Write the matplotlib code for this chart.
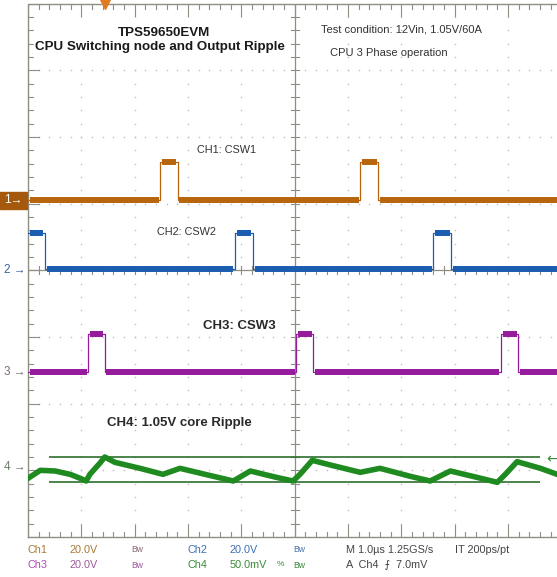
import matplotlib
matplotlib.use("Agg")
import matplotlib.pyplot as plt
from matplotlib.patches import Rectangle
import numpy as np

# ---------------- data (time in µs = divisions, amplitude in divisions) ----------------
ch1_base, ch1_high = 1.05, 1.63
ch1_starts = [2.48, 6.23]
ch1_ends = [2.81, 6.57]

ch2_base, ch2_high = 0.02, 0.56
ch2_starts = [0.0, 3.88, 7.60]
ch2_ends = [0.32, 4.22, 7.94]

ch3_base, ch3_high = -1.53, -0.95
ch3_starts = [1.13, 5.03, 8.87]
ch3_ends = [1.44, 5.35, 9.19]

ch4_t = [0.00, 0.23, 0.51, 0.79, 0.98, 1.09, 1.16, 1.35, 1.44, 1.63, 2.10, 2.53,
         2.85, 3.32, 3.85, 4.17, 4.63, 4.97, 5.10, 5.33, 5.67, 6.23, 6.60, 7.17,
         7.54, 7.92, 8.39, 8.80, 8.95, 9.17, 9.61, 9.92, 10.0]
ch4_v = [-3.12, -3.00, -3.01, -3.06, -3.12, -3.16, -3.06, -2.89, -2.80, -2.88, -2.97, -3.06,
         -2.97, -3.06, -3.16, -3.01, -3.10, -3.16, -3.06, -2.85, -2.92, -3.03, -2.97, -3.09,
         -3.16, -3.01, -3.10, -3.18, -3.06, -2.87, -2.97, -3.06, -3.07]

cursor_levels = [-2.80, -3.18]
cursor_span = [0.39, 9.60]

ch_markers = {"1": 1.05, "2": 0.0, "3": -1.53, "4": -2.95}

C1 = "#b8660e"
C2 = "#1c5db0"
C3 = "#951c9c"
C4 = "#1f8a1f"
FRAME = "#8e8e82"
GRID = "#c4c4c4"

W, H = 557, 577
fig = plt.figure(figsize=(W / 100, H / 100), dpi=100)
fig.patch.set_facecolor("white")
ax = fig.add_axes([28 / W, 40 / H, 533.3 / W, 533.3 / H])
ax.set_xlim(0, 10)
ax.set_ylim(-4, 4)
ax.axis("off")

SANS = ["Liberation Sans", "DejaVu Sans"]

# ---------------- graticule ----------------
minor = np.arange(0, 10.001, 0.2)
minor_y = np.arange(-4, 4.001, 0.2)
for k in range(1, 10):
    if k == 5:
        continue
    ax.plot(np.full_like(minor_y, k), minor_y, ls="none", marker="o", ms=1.2,
            mfc=GRID, mec="none", zorder=1)
for m in range(-3, 4):
    if m == 0:
        continue
    ax.plot(minor, np.full_like(minor, m), ls="none", marker="o", ms=1.2,
            mfc=GRID, mec="none", zorder=1)

# frame
ax.plot([0, 10, 10, 0, 0], [-4, -4, 4, 4, -4], color=FRAME, lw=1.0, clip_on=False, zorder=2)
# centre lines
ax.plot([5, 5], [-4, 4], color=FRAME, lw=0.9, zorder=2)
ax.plot([0, 10], [0, 0], color=FRAME, lw=0.9, zorder=2)

hx = 1 / 53.33  # divisions per pixel horizontally
hy = 1 / 66.67  # divisions per pixel vertically
for x in minor:
    major = abs(x - round(x)) < 1e-6
    L = (12 if major else 5) * hy
    ax.plot([x, x], [-4, -4 + L], color=FRAME, lw=0.8, zorder=2)
    ax.plot([x, x], [4, 4 - L], color=FRAME, lw=0.8, zorder=2)
    ax.plot([x, x], [-4 * hy, 4 * hy], color=FRAME, lw=0.8, zorder=2)
for y in minor_y:
    major = abs(y - round(y)) < 1e-6
    L = (11 if major else 5) * hx
    ax.plot([0, L], [y, y], color=FRAME, lw=0.8, zorder=2)
    ax.plot([5 - 4 * hx, 5 + 4 * hx], [y, y], color=FRAME, lw=0.8, zorder=2)


# ---------------- pulse traces ----------------
def pulse_trace(base, high, starts, ends, color):
    t, v = [0.0], [high if starts[0] <= 0 else base]
    for s, e in zip(starts, ends):
        if s > 0:
            t += [s, s]
            v += [base, high]
        t += [e, e]
        v += [high, base]
    t += [10.0]
    v += [base]
    ax.plot(t, v, color=color, lw=0.9, zorder=4)
    lows_start = [0.0] + list(ends)
    lows_end = list(starts) + [10.0]
    for a, b in zip(lows_start, lows_end):
        if b - a > 0.01:
            ax.plot([a + 0.03, b - 0.03], [base, base], color=color, lw=4.3,
                    solid_capstyle="butt", zorder=4)
    for s, e in zip(starts, ends):
        ax.plot([s + 0.03, e - 0.03], [high, high], color=color, lw=4.3,
                solid_capstyle="butt", zorder=4)


pulse_trace(ch1_base, ch1_high, ch1_starts, ch1_ends, C1)
pulse_trace(ch2_base, ch2_high, ch2_starts, ch2_ends, C2)
pulse_trace(ch3_base, ch3_high, ch3_starts, ch3_ends, C3)

# ripple
ax.hlines(cursor_levels, cursor_span[0], cursor_span[1], color="#2d6e2d", lw=1.2, zorder=3)
ax.plot(ch4_t, ch4_v, color=C4, lw=4.0, zorder=4, solid_joinstyle="round")

# ---------------- channel markers ----------------
def ypix(v):
    return 3.7 + (4 - v) * 66.67

y1 = ypix(ch_markers["1"])
fig.patches.append(Rectangle((0, 1 - (y1 + 8.5) / H), 27 / W, 17 / H,
                             transform=fig.transFigure, color="#a5590c", zorder=5))
fig.text(4 / W, 1 - y1 / H, "1→", color="white", fontsize=8.5, va="center",
         family=SANS, zorder=6)
for key, col in [("2", "#3a63a0"), ("3", "#7a6a7a"), ("4", "#6a7a6a")]:
    yy = ypix(ch_markers[key])
    fig.text(26 / W, 1 - yy / H, key + " →", color=col, fontsize=8.5, va="center",
             ha="right", family=SANS)

# trigger position marker
ax.plot([1.44], [4.0], marker="v", ms=7, color="#e07a20", clip_on=False, zorder=6)
# trigger level arrow
fig.text(546 / W, 1 - 459 / H, "←", color="#3a8a3a", fontsize=10, va="center",
         ha="left", family=["DejaVu Sans"])

# ---------------- annotations ----------------
fig.patches.append(Rectangle((34 / W, 1 - 62 / H), 254 / W, 44 / H,
                             transform=fig.transFigure, color="white", zorder=3))
fig.text(164 / W, 1 - 33 / H, "TPS59650EVM", fontsize=9.6, weight="bold",
         ha="center", va="center", family=SANS, color="#1a1a1a", zorder=6)
fig.text(160 / W, 1 - 47 / H, "CPU Switching node and Output Ripple", fontsize=9.6,
         weight="bold", ha="center", va="center", family=SANS, color="#1a1a1a", zorder=6)

fig.text(321 / W, 1 - 30 / H, "Test condition: 12Vin, 1.05V/60A", fontsize=8.0,
         ha="left", va="center", family=SANS, color="#333333")
fig.text(330 / W, 1 - 53 / H, "CPU 3 Phase operation", fontsize=8.0,
         ha="left", va="center", family=SANS, color="#333333")

fig.text(197 / W, 1 - 150 / H, "CH1: CSW1", fontsize=7.8, ha="left", va="center",
         family=SANS, color="#333333")
fig.text(157 / W, 1 - 232 / H, "CH2: CSW2", fontsize=7.8, ha="left", va="center",
         family=SANS, color="#333333")
fig.text(203 / W, 1 - 326 / H, "CH3: CSW3", fontsize=9.5, weight="bold", ha="left",
         va="center", family=SANS, color="#2a2a2a")
fig.text(107 / W, 1 - 423 / H, "CH4: 1.05V core Ripple", fontsize=9.5, weight="bold",
         ha="left", va="center", family=SANS, color="#2a2a2a")

# ---------------- bottom readout ----------------
r1, r2 = 550, 565
fs = 7.8
items = [
    (28, r1, "Ch1", "#a87a38", fs), (69, r1, "20.0V", "#a87a38", fs),
    (131, r1, "Bw", "#8a6a70", 6.2),
    (187, r1, "Ch2", "#3d70b4", fs), (230, r1, "20.0V", "#3d70b4", fs),
    (293, r1, "Bw", "#4a6fb0", 6.2),
    (346, r1, "M 1.0µs 1.25GS/s", "#444444", fs), (455, r1, "IT 200ps/pt", "#444444", fs),
    (28, r2, "Ch3", "#b04cb0", fs), (69, r2, "20.0V", "#9a5a9a", fs),
    (131, r2, "Bw", "#9a5a9a", 6.2),
    (187, r2, "Ch4", "#3a8a3a", fs), (230, r2, "50.0mV", "#3a8a3a", fs),
    (277, r2, "%", "#3a8a3a", 6.0), (293, r2, "Bw", "#3a8a3a", 6.2),
    (346, r2, "A  Ch4  ⨍  7.0mV", "#444444", fs),
]
for x, y, s, c, f in items:
    fig.text(x / W, 1 - y / H, s, color=c, fontsize=f, ha="left", va="center",
             family=SANS)

fig.savefig("out.png", dpi=100, facecolor="white")
